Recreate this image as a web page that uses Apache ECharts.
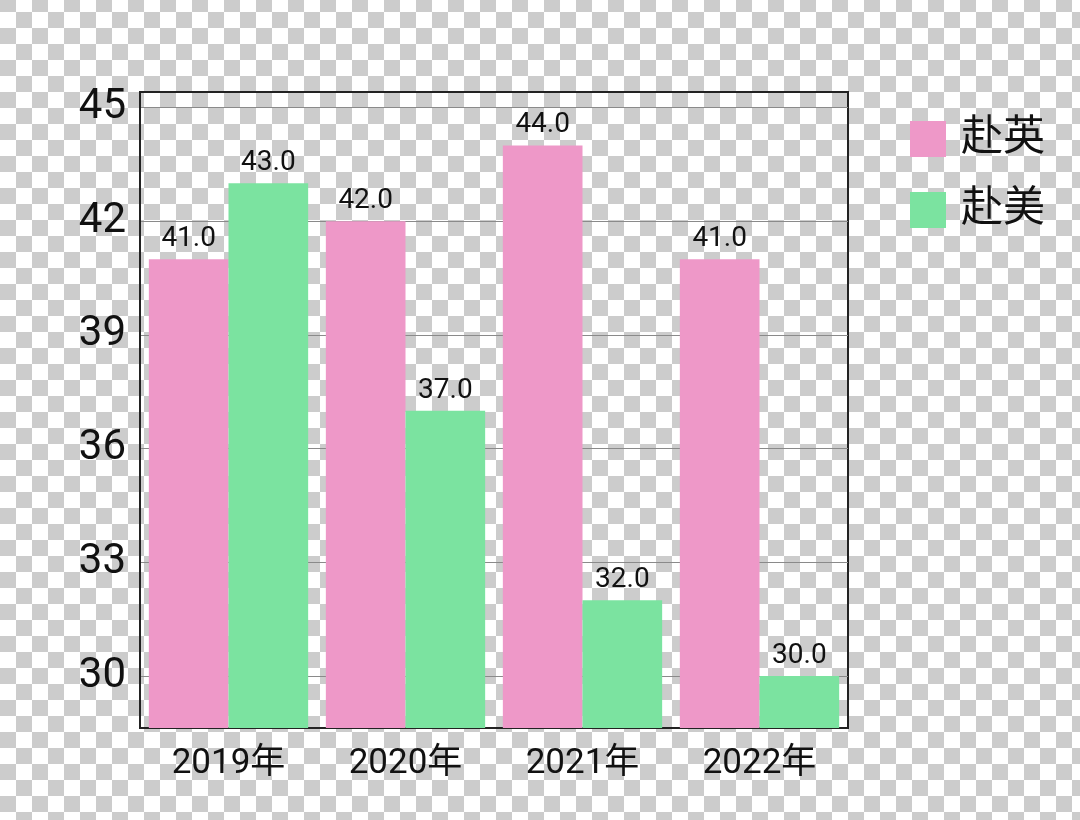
<!DOCTYPE html>
<html>
<head>
<meta charset="utf-8">
<script src="https://cdn.jsdelivr.net/npm/echarts@6/dist/echarts.min.js"></script>
<style>
html,body{margin:0;padding:0;width:1080px;height:820px;overflow:hidden;}
body{
  background-color:#fff;
  background-image:conic-gradient(#fff 0 25%, #cccccc 0 50%, #fff 0 75%, #cccccc 0);
  background-size:32px 32px;
  background-position:0 -4px;
}
#chart{width:1080px;height:820px;}
</style>
</head>
<body>
<div id="chart"></div>
<script>
const categories = ['2019年', '2020年', '2021年', '2022年'];
const ying = [41.0, 42.0, 44.0, 41.0];
const mei = [43.0, 37.0, 32.0, 30.0];
const yTicks = [30, 33, 36, 39, 42, 45];
const seriesNames = ['赴英', '赴美'];

const FONT = 'Roboto, "Noto Sans CJK SC", sans-serif';
const chart = echarts.init(document.getElementById('chart'), null, {renderer: 'canvas'});
const labelCfg = {
  show: true, position: 'top', distance: 6,
  color: '#111', fontSize: 28, fontFamily: FONT,
  formatter: p => Number(p.value).toFixed(1)
};
chart.setOption({
  backgroundColor: 'transparent',
  animation: false,
  grid: {
    left: 140, right: 232, top: 92, bottom: 92,
    show: true, borderColor: '#222', borderWidth: 2,
    backgroundColor: 'transparent'
  },
  legend: {
    orient: 'vertical', left: 905, top: 113,
    itemWidth: 36, itemHeight: 36, itemGap: 29,
    icon: 'rect',
    textStyle: {fontSize: 42, color: '#111', fontFamily: FONT, padding: [0, 0, 0, 10]},
    data: seriesNames
  },
  xAxis: {
    type: 'category', data: categories,
    axisLine: {show: true, lineStyle: {color: '#222', width: 2}},
    axisTick: {show: false},
    axisLabel: {fontSize: 35, color: '#111', fontFamily: FONT, margin: 19}
  },
  yAxis: {
    type: 'value', min: 28.63, max: 45.41,
    axisLine: {show: true, lineStyle: {color: '#222', width: 2}},
    axisTick: {show: false, customValues: yTicks},
    axisLabel: {fontSize: 42, color: '#111', fontFamily: FONT, margin: 14, customValues: yTicks},
    splitLine: {show: true, lineStyle: {color: '#8a8a8a', width: 1}}
  },
  series: [
    {name: seriesNames[0], type: 'bar', data: ying, barGap: '0%', barCategoryGap: '10%',
     itemStyle: {color: '#EE98C8'}, label: labelCfg},
    {name: seriesNames[1], type: 'bar', data: mei, barGap: '0%', barCategoryGap: '10%',
     itemStyle: {color: '#7BE3A0'}, label: labelCfg}
  ]
});
</script>
</body>
</html>
